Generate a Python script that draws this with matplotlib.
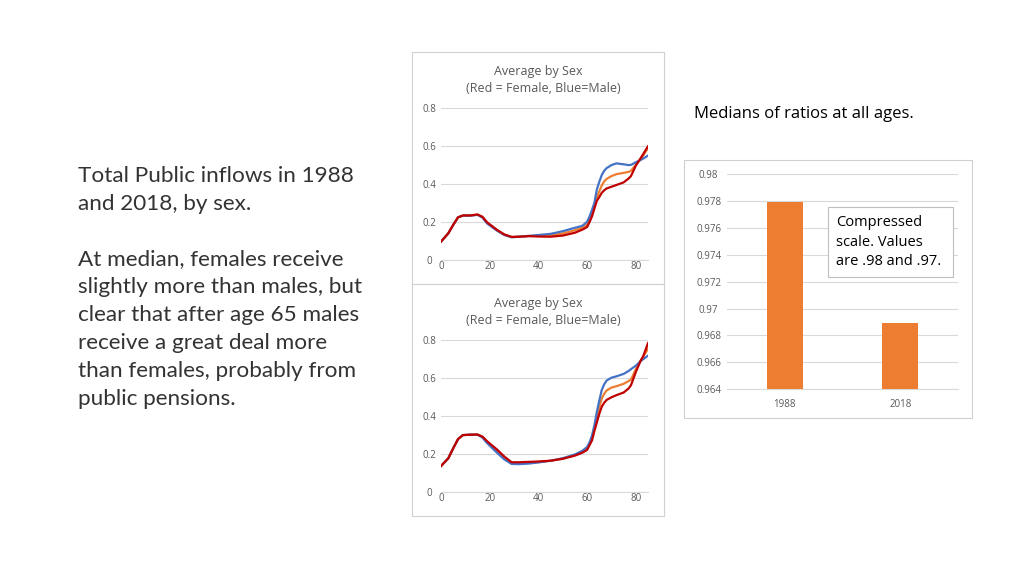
import matplotlib
matplotlib.use("Agg")
import matplotlib.pyplot as plt
from matplotlib.patches import Rectangle

# ages
ages = [0, 3, 5, 7, 9, 12, 15, 17, 19, 23, 26, 29, 32, 36, 40, 45, 50, 55,
        58, 60, 61, 62, 63, 64, 65, 66, 67, 68, 70, 72, 75, 77, 78, 80, 82, 83, 85]

# 1988 (top chart)
male_88 = [0.095, 0.139, 0.183, 0.223, 0.232, 0.232, 0.236, 0.222, 0.19, 0.153, 0.13,
           0.118, 0.121, 0.125, 0.13, 0.136, 0.15, 0.168,
           0.178, 0.2, 0.228, 0.262, 0.3, 0.37, 0.41, 0.445, 0.468, 0.482, 0.498,
           0.507, 0.502, 0.498, 0.499, 0.513, 0.525, 0.532, 0.548]
female_88 = [0.095, 0.139, 0.183, 0.223, 0.233, 0.233, 0.238, 0.226, 0.196, 0.157, 0.133,
             0.12, 0.121, 0.124, 0.122, 0.121, 0.127, 0.142,
             0.158, 0.172, 0.198, 0.228, 0.27, 0.31, 0.33, 0.352, 0.365, 0.375, 0.384,
             0.393, 0.407, 0.427, 0.44, 0.495, 0.535, 0.555, 0.597]
avg_88 = [0.095, 0.139, 0.183, 0.223, 0.232, 0.232, 0.237, 0.224, 0.193, 0.155, 0.131,
          0.119, 0.121, 0.125, 0.126, 0.128, 0.138, 0.155,
          0.168, 0.185, 0.21, 0.235, 0.28, 0.33, 0.36, 0.39, 0.412, 0.425, 0.44,
          0.45, 0.457, 0.462, 0.468, 0.5, 0.53, 0.548, 0.588]

# 2018 (bottom chart)
male_18 = [0.135, 0.176, 0.228, 0.277, 0.298, 0.3, 0.3, 0.285, 0.255, 0.205, 0.17,
           0.146, 0.145, 0.148, 0.154, 0.163, 0.176, 0.196,
           0.215, 0.235, 0.26, 0.295, 0.35, 0.42, 0.48, 0.535, 0.565, 0.585, 0.6,
           0.607, 0.62, 0.635, 0.645, 0.663, 0.688, 0.697, 0.716]
female_18 = [0.135, 0.176, 0.228, 0.277, 0.298, 0.3, 0.301, 0.29, 0.265, 0.222, 0.185,
             0.155, 0.155, 0.157, 0.159, 0.163, 0.173, 0.19,
             0.205, 0.22, 0.245, 0.27, 0.32, 0.365, 0.41, 0.447, 0.468, 0.483, 0.497,
             0.508, 0.522, 0.543, 0.56, 0.63, 0.69, 0.712, 0.782]
avg_18 = [0.135, 0.176, 0.228, 0.277, 0.298, 0.3, 0.3, 0.288, 0.26, 0.213, 0.178,
          0.15, 0.15, 0.152, 0.156, 0.163, 0.175, 0.193,
          0.21, 0.228, 0.252, 0.285, 0.335, 0.39, 0.445, 0.49, 0.515, 0.533, 0.548,
          0.555, 0.568, 0.582, 0.59, 0.645, 0.69, 0.71, 0.752]

# medians of ratios
years = ["1988", "2018"]
medians = [0.9779, 0.9689]
bar_ticks = [0.964, 0.966, 0.968, 0.97, 0.972, 0.974, 0.976, 0.978, 0.98]
bar_tick_labels = ["0.964", "0.966", "0.968", "0.97", "0.972", "0.974", "0.976", "0.978", "0.98"]

BLUE = "#4472C4"
RED = "#C00000"
ORANGE = "#ED7D31"
GRID = "#D9D9D9"
TXT = "#595959"

plt.rcParams["font.family"] = ["Open Sans", "DejaVu Sans"]

fig = plt.figure(figsize=(10.24, 5.76), dpi=100)
W, H = 1024, 576


def px_rect(x0, y0, x1, y1, **kw):
    # rectangle given in pixel coords measured from the top-left corner
    r = Rectangle((x0 / W, 1 - y1 / H), (x1 - x0) / W, (y1 - y0) / H,
                  transform=fig.transFigure, **kw)
    fig.patches.append(r)


def line_chart(ax, m, f, a):
    ax.plot(ages, a, color=ORANGE, lw=1.6, zorder=3)
    ax.plot(ages, m, color=BLUE, lw=1.6, zorder=4)
    ax.plot(ages, f, color=RED, lw=1.6, zorder=5)
    ax.set_xlim(0, 85)
    ax.set_ylim(0, 0.8)
    ax.set_xticks([0, 20, 40, 60, 80])
    ax.set_yticks([0, 0.2, 0.4, 0.6, 0.8])
    ax.set_yticklabels(["0", "0.2", "0.4", "0.6", "0.8"])
    ax.grid(axis="y", color=GRID, lw=0.8)
    ax.set_axisbelow(True)
    for s in ["top", "right", "left"]:
        ax.spines[s].set_visible(False)
    ax.spines["bottom"].set_color(GRID)
    ax.tick_params(length=0, labelsize=7, colors=TXT)
    ax.tick_params(axis="x", pad=1)
    ax.tick_params(axis="y", pad=8.6)
    for lab in ax.get_yticklabels():
        lab.set_ha("center")
    ax.set_facecolor("none")


# panel frames
for box in [(412, 52, 664, 284), (412, 284, 664, 516), (684, 160, 972, 418)]:
    px_rect(*box, fill=True, facecolor="white", edgecolor="#D0D0D0", lw=0.8, zorder=-5)

ax1 = fig.add_axes([441 / W, 1 - 259.7 / H, 207 / W, 152 / H])
line_chart(ax1, male_88, female_88, avg_88)
ax2 = fig.add_axes([441 / W, 1 - 491.7 / H, 207 / W, 152 / H])
line_chart(ax2, male_18, female_18, avg_18)

for yt in [71, 303]:
    fig.text(538 / W, 1 - yt / H, "Average by Sex", ha="center", va="center",
             fontsize=9, color=TXT)
    fig.text(543 / W, 1 - (yt + 17) / H, "(Red = Female, Blue=Male)", ha="center",
             va="center", fontsize=9, color=TXT)

ax3 = fig.add_axes([727 / W, 1 - 389.3 / H, 231 / W, 215.3 / H])
ax3.bar(range(len(years)), medians, width=0.31, color=ORANGE, zorder=3)
ax3.set_xlim(-0.5, 1.5)
ax3.set_ylim(0.964, 0.98)
ax3.set_xticks(range(len(years)))
ax3.set_xticklabels(years)
ax3.set_yticks(bar_ticks)
ax3.set_yticklabels(bar_tick_labels)
ax3.grid(axis="y", color=GRID, lw=0.8)
ax3.set_axisbelow(True)
for s in ["top", "right", "left"]:
    ax3.spines[s].set_visible(False)
ax3.spines["bottom"].set_color(GRID)
ax3.tick_params(length=0, labelsize=7, colors=TXT)
ax3.tick_params(axis="x", pad=7)
ax3.tick_params(axis="y", pad=13.2)
for lab in ax3.get_yticklabels():
    lab.set_ha("center")
ax3.set_facecolor("none")

# annotation box
px_rect(828, 206.7, 953.3, 277.3, fill=True, facecolor="white", edgecolor="#BFBFBF",
        lw=0.8, zorder=10)
fig.text(836 / W, 1 - 242 / H, "Compressed\nscale. Values\nare .98 and .97.",
         ha="left", va="center", fontsize=10.5, linespacing=1.45, color="black", zorder=11)

fig.text(694 / W, 1 - 114 / H, "Medians of ratios at all ages.", ha="left", va="center",
         fontsize=12, color="black")

left_text = ("Total Public inflows in 1988\nand 2018, by sex.\n\n"
             "At median, females receive\nslightly more than males, but\n"
             "clear that after age 65 males\nreceive a great deal more\n"
             "than females, probably from\npublic pensions.")
fig.text(78 / W, 1 - 166 / H, left_text, ha="left", va="top", fontsize=16.2,
         linespacing=1.49, color="#333333",
         family=["Lato", "DejaVu Sans"])

fig.savefig("out.png", dpi=100)
